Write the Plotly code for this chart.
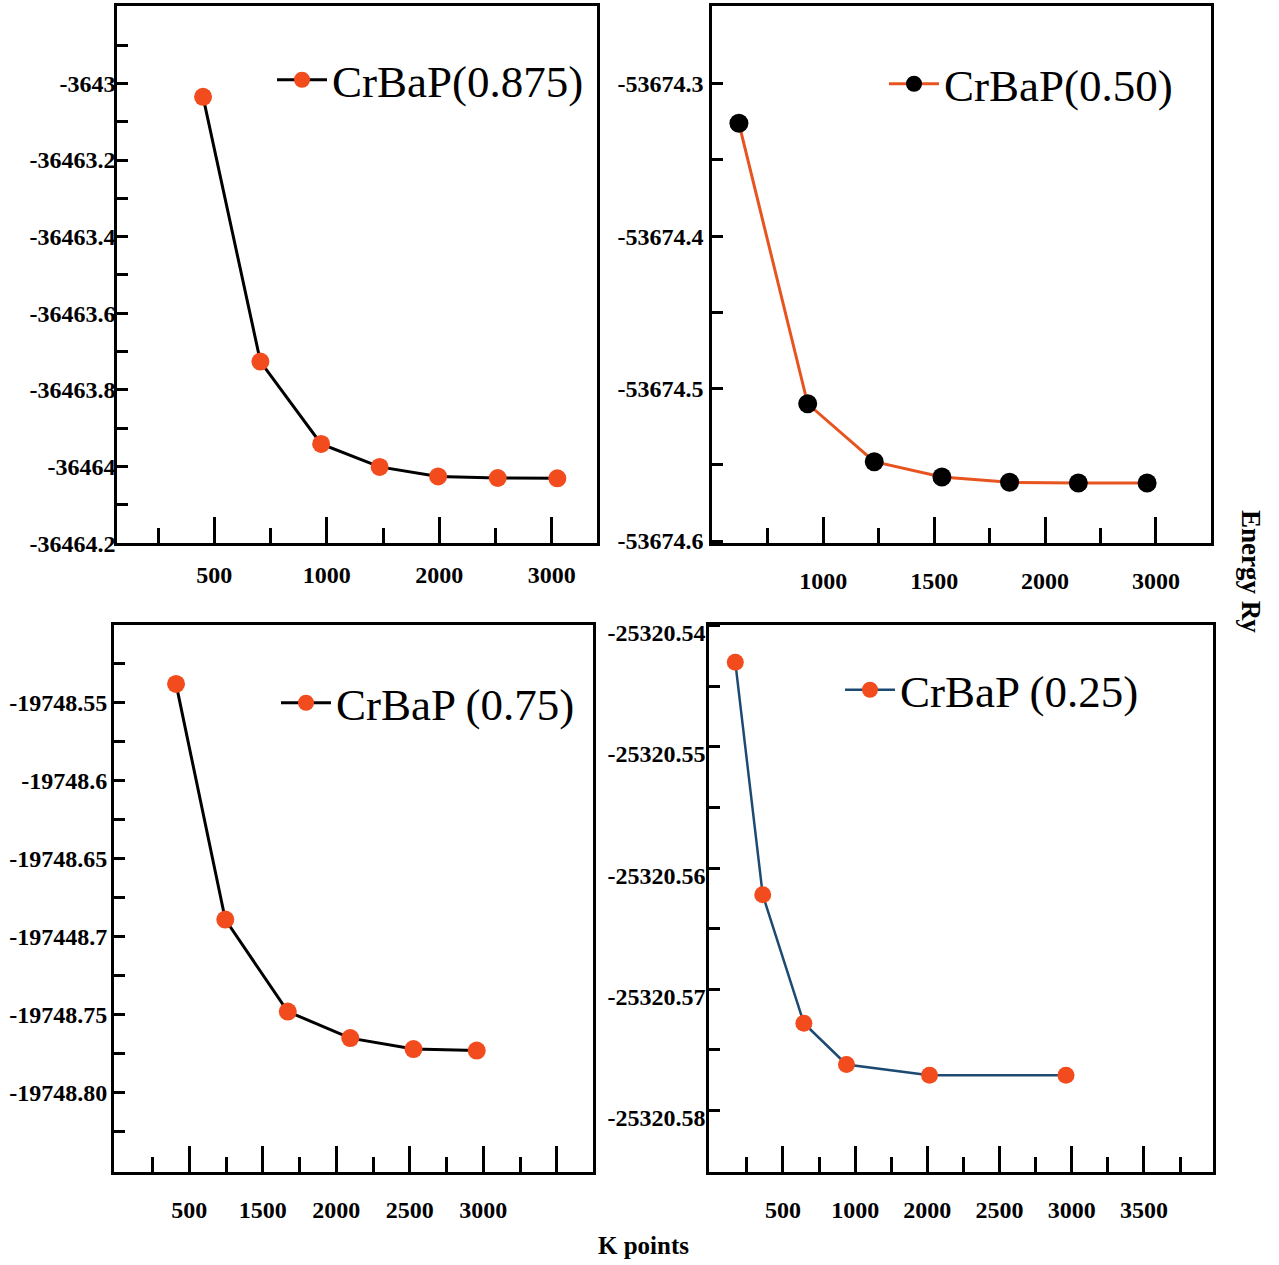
import plotly.graph_objects as go

W, H = 1279, 1265

# ---- data: total energy (Ry) versus k-points for each composition ----
kp_0875 = [450, 705, 975, 1235, 1495, 1760, 2025]
e_0875 = [-36463.035, -36463.726, -36463.941, -36464.001, -36464.026, -36464.030, -36464.031]

kp_050 = [620, 930, 1230, 1535, 1840, 2150, 2460]
e_050 = [-53674.326, -53674.510, -53674.548, -53674.558, -53674.5615, -53674.562, -53674.562]

kp_075 = [910, 1245, 1670, 2095, 2525, 2955]
e_075 = [-19748.538, -19748.689, -19748.748, -19748.765, -19748.772, -19748.773]

kp_025 = [670, 860, 1145, 1440, 2015, 2960]
e_025 = [-25320.543, -25320.5622, -25320.5728, -25320.5762, -25320.5771, -25320.5771]

names = ["CrBaP(0.875)", "CrBaP(0.50)", "CrBaP (0.75)", "CrBaP (0.25)"]

# tick labels as printed on each panel
xt_0875 = ["500", "1000", "2000", "3000"]
xt_050 = ["1000", "1500", "2000", "3000"]
xt_075 = ["500", "1500", "2000", "2500", "3000", ""]
xt_025 = ["500", "1000", "2000", "2500", "3000", "3500"]

yt_0875 = ["-3643", "-36463.2", "-36463.4", "-36463.6", "-36463.8", "-36464", "-36464.2"]
yt_050 = ["-53674.3", "-53674.4", "-53674.5", "-53674.6"]
yt_075 = ["-19748.55", "-19748.6", "-19748.65", "-197448.7", "-19748.75", "-19748.80"]
yt_025 = ["-25320.54", "-25320.55", "-25320.56", "-25320.57", "-25320.58"]

ORANGE = "#f24b1d"
LINE_OR = "#e8541f"
BLUE = "#1c4a72"
SERIF = "Liberation Serif"


def frange(a, b, step):
    n = int(round((b - a) / step))
    return [round(a + i * step, 4) for i in range(n + 1)]


# panel boxes in pixels: left, right, top, bottom
boxes = [
    (117.3, 596.7, 5.7, 543.3),
    (712.3, 1211.0, 5.9, 543.3),
    (114.0, 593.3, 624.6, 1172.3),
    (709.3, 1213.0, 624.6, 1172.3),
]

panels = [
    dict(x=kp_0875, y=e_0875, line=dict(color="black", width=3),
         marker=dict(color=ORANGE, size=18),
         xr=[68.8, 2200], xmaj=[500, 1000, 1500, 2000], xmin=[250, 750, 1250, 1750], xt=xt_0875,
         yr=[-36464.2005, -36462.797], ymaj=frange(-36464.2, -36463.0, 0.2),
         ymin=frange(-36464.1, -36462.9, 0.2), yt=yt_0875[::-1],
         yshift=0, ystand=-6, xstand=8, leg=(272, 80)),
    dict(x=kp_050, y=e_050, line=dict(color=LINE_OR, width=3),
         marker=dict(color="black", size=19),
         xr=[500, 2748], xmaj=[1000, 1500, 2000, 2500], xmin=[750, 1250, 1750, 2250], xt=xt_050,
         yr=[-53674.6015, -53674.249], ymaj=frange(-53674.6, -53674.3, 0.1),
         ymin=[-53674.55, -53674.45, -53674.35], yt=yt_050[::-1],
         yshift=0, ystand=1, xstand=14, leg=(884, 84)),
    dict(x=kp_075, y=e_075, line=dict(color="black", width=3),
         marker=dict(color=ORANGE, size=18),
         xr=[488, 3748], xmaj=[1000, 1500, 2000, 2500, 3000, 3500],
         xmin=[750, 1250, 1750, 2250, 2750, 3250], xt=xt_075,
         yr=[-19748.851, -19748.50], ymaj=frange(-19748.80, -19748.55, 0.05),
         ymin=frange(-19748.825, -19748.525, 0.05), yt=yt_075[::-1],
         yshift=0, ystand=-1, xstand=14, leg=(276, 703)),
    dict(x=kp_025, y=e_025, line=dict(color=BLUE, width=2.5),
         marker=dict(color=ORANGE, size=17),
         xr=[490, 3978], xmaj=[1000, 1500, 2000, 2500, 3000, 3500],
         xmin=[750, 1250, 1750, 2250, 2750, 3250, 3750], xt=xt_025,
         yr=[-25320.5851, -25320.5399], ymaj=frange(-25320.58, -25320.54, 0.01),
         ymin=[-25320.575, -25320.565, -25320.555, -25320.545], yt=yt_025[::-1],
         yshift=7, ystand=-4, xstand=14, leg=(840, 690)),
]

fig = go.Figure()
layout = dict(
    template="none",
    width=W, height=H, margin=dict(l=0, r=0, t=0, b=0, pad=0, autoexpand=False),
    paper_bgcolor="white", plot_bgcolor="white", showlegend=True,
)

tickfont = dict(family=SERIF, size=24, color="black", weight="bold")

for i, (p, box, name) in enumerate(zip(panels, boxes, names)):
    n = i + 1
    xa = "x" if n == 1 else f"x{n}"
    ya = "y" if n == 1 else f"y{n}"
    lg = "legend" if n == 1 else f"legend{n}"
    fig.add_trace(go.Scatter(
        x=p["x"], y=p["y"], mode="lines+markers", name=name,
        line=p["line"], marker=p["marker"], xaxis=xa, yaxis=ya, legend=lg,
    ))
    l, r, t, b = box
    xkey = "xaxis" if n == 1 else f"xaxis{n}"
    ykey = "yaxis" if n == 1 else f"yaxis{n}"
    layout[xkey] = dict(
        domain=[l / W, r / W], anchor=ya, range=p["xr"], automargin=False,
        showgrid=False, zeroline=False, showline=True, mirror=True,
        linecolor="black", linewidth=3,
        ticks="inside", ticklen=26, tickwidth=2.5, tickcolor="black",
        tickmode="array", tickvals=p["xmaj"], ticktext=p["xt"],
        tickfont=tickfont, ticklabelstandoff=p["xstand"],
        minor=dict(tickmode="array", tickvals=p["xmin"], ticks="inside",
                   ticklen=15, tickwidth=2.5, tickcolor="black", showgrid=False),
    )
    layout[ykey] = dict(
        domain=[1 - b / H, 1 - t / H], anchor=xa, range=p["yr"], automargin=False,
        showgrid=False, zeroline=False, showline=True, mirror=True,
        linecolor="black", linewidth=3,
        ticks="inside", ticklen=11, tickwidth=2.5, tickcolor="black",
        tickmode="array", tickvals=p["ymaj"], ticktext=p["yt"],
        tickfont=tickfont, ticklabelstandoff=p["ystand"], ticklabelshift=p["yshift"],
        minor=dict(tickmode="array", tickvals=p["ymin"], ticks="inside",
                   ticklen=11, tickwidth=2.5, tickcolor="black", showgrid=False),
    )
    lx, ly = p["leg"]
    layout[lg] = dict(
        x=lx / W, y=1 - ly / H, xanchor="left", yanchor="middle",
        bgcolor="rgba(0,0,0,0)", borderwidth=0, itemwidth=50,
        font=dict(family=SERIF, size=45, color="black"),
    )

fig.update_layout(**layout)

# shared axis titles
fig.add_annotation(
    text="Energy Ry", x=1251 / W, y=1 - 571 / H, xref="paper", yref="paper",
    xanchor="center", yanchor="middle", showarrow=False, textangle=90,
    font=dict(family=SERIF, size=27, color="black", weight="bold"),
)
fig.add_annotation(
    text="K points", x=643 / W, y=1 - 1245 / H, xref="paper", yref="paper",
    xanchor="center", yanchor="middle", showarrow=False,
    font=dict(family=SERIF, size=25, color="black", weight="bold"),
)

# page body without default margin so the figure sits flush in the window
fig.write_html("out.html", post_script="document.body.style.margin='0';")
